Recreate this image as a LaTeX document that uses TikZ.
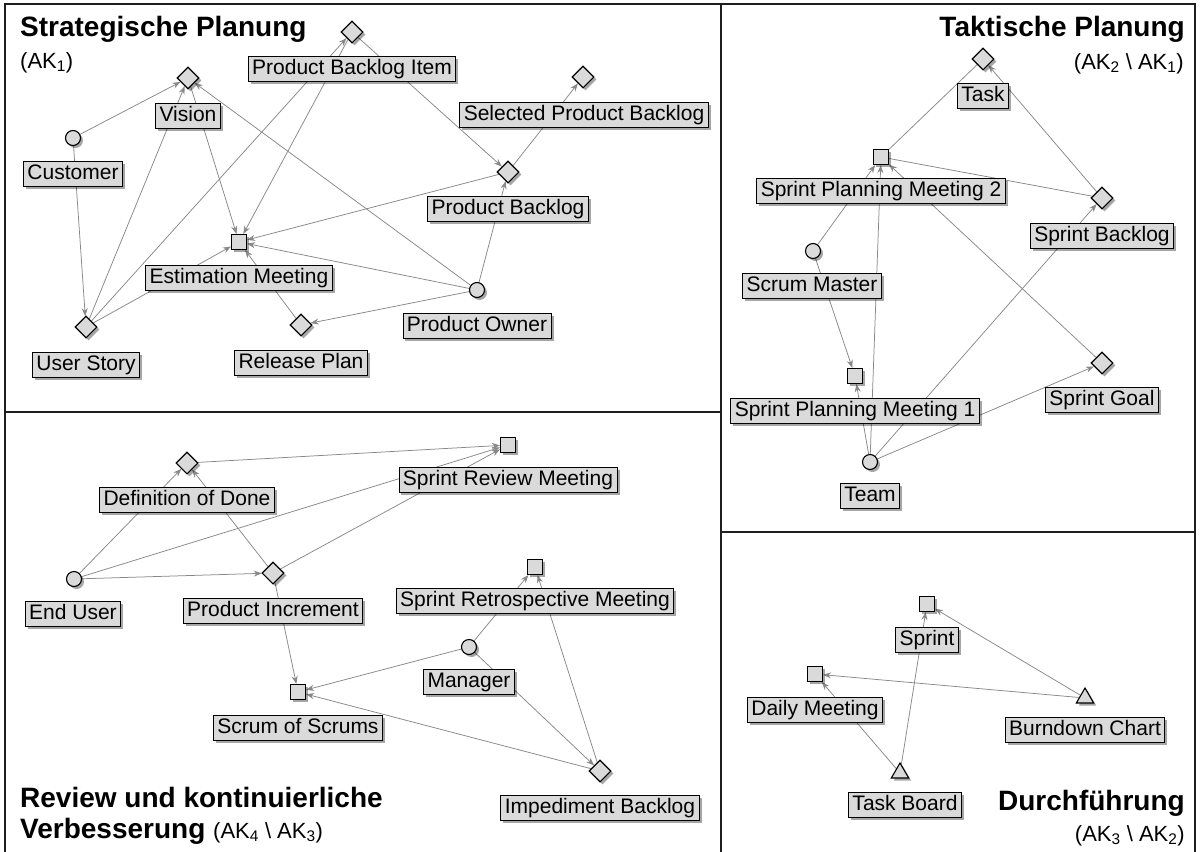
\documentclass[tikz,border=0pt]{standalone}
\usepackage{fontspec}
\setmainfont{Liberation Sans}
\usetikzlibrary{shapes.geometric,arrows.meta,shadows,backgrounds}
\definecolor{boxfill}{HTML}{DADADA}
\definecolor{linkgray}{HTML}{888888}
\definecolor{framegray}{HTML}{1E1E1E}
\newcommand{\smalltxt}{\mdseries\fontsize{22}{24}\selectfont}
\begin{document}
\begin{tikzpicture}[x=1pt,y=-1pt,
  shade/.style={drop shadow={shadow xshift=2.5pt,shadow yshift=-2.5pt,opacity=0.35,fill=black}},
  lbl/.style={draw=black,line width=0.9pt,fill=boxfill,font=\fontsize{21}{23}\selectfont,
    inner xsep=4pt,inner ysep=3pt,text height=15pt,text depth=4pt,shade},
  el/.style={draw=black,line width=1.1pt,fill=boxfill,inner sep=0pt,shade},
  dia/.style={el,diamond,minimum size=22pt},
  sq/.style={el,rectangle,minimum size=15pt},
  circ/.style={el,circle,minimum size=15pt},
  tri/.style={el,regular polygon,regular polygon sides=3,minimum size=20pt},
  link/.style={draw=linkgray,line width=0.75pt,-{Stealth[length=8pt,width=6pt]}},
  plainlink/.style={draw=linkgray,line width=0.75pt},
  title/.style={font=\fontsize{28}{31}\selectfont\bfseries,inner sep=0pt},
  sub/.style={font=\smalltxt,inner sep=0pt}]
\useasboundingbox (0,0) rectangle (1203,852);

% ---------- Strategische Planung ----------
\node[dia] (vision) at (188,78) {};
\node[lbl] (lVision) at (188,116) {Vision};
\node[circ] (customer) at (73,138) {};
\node[lbl] (lCustomer) at (73,174) {Customer};
\node[dia] (pbi) at (352,32) {};
\node[lbl] (lPbi) at (352,69) {Product Backlog Item};
\node[dia] (spb) at (583,77) {};
\node[lbl] (lSpb) at (584,115) {Selected Product Backlog};
\node[dia] (pb) at (508,172) {};
\node[lbl] (lPb) at (508,209) {Product Backlog};
\node[sq] (em) at (239,242) {};
\node[lbl] (lEm) at (239,278) {Estimation Meeting};
\node[dia] (us) at (86,327) {};
\node[lbl] (lUs) at (86,365) {User Story};
\node[dia] (rp) at (301,325) {};
\node[lbl] (lRp) at (301,363) {Release Plan};
\node[circ] (po) at (477,290) {};
\node[lbl] (lPo) at (477,326) {Product Owner};

% ---------- Taktische Planung ----------
\node[dia] (task) at (983,59) {};
\node[lbl] (lTask) at (983,96) {Task};
\node[sq] (spm2) at (881,157) {};
\node[lbl] (lSpm2) at (881,191) {Sprint Planning Meeting 2};
\node[dia] (sb) at (1102,198) {};
\node[lbl] (lSb) at (1102,236) {Sprint Backlog};
\node[circ] (sm) at (813,251) {};
\node[lbl] (lSm) at (812,286) {Scrum Master};
\node[sq] (spm1) at (855,376) {};
\node[lbl] (lSpm1) at (855,411) {Sprint Planning Meeting 1};
\node[dia] (sg) at (1102,363) {};
\node[lbl] (lSg) at (1102,400) {Sprint Goal};
\node[circ] (team) at (870,462) {};
\node[lbl] (lTeam) at (870,496) {Team};

% ---------- Review und kontinuierliche Verbesserung ----------
\node[dia] (dod) at (187,463) {};
\node[lbl] (lDod) at (187,500) {Definition of Done};
\node[sq] (srm) at (508,445) {};
\node[lbl] (lSrm) at (508,480) {Sprint Review Meeting};
\node[circ] (eu) at (74,579) {};
\node[lbl] (lEu) at (73,614) {End User};
\node[dia] (pi) at (273,573) {};
\node[lbl] (lPi) at (273,611) {Product Increment};
\node[sq] (sretm) at (535,567) {};
\node[lbl] (lSretm) at (535,601) {Sprint Retrospective Meeting};
\node[circ] (mgr) at (469,647) {};
\node[lbl] (lMgr) at (469,682) {Manager};
\node[sq] (sos) at (298,692) {};
\node[lbl] (lSos) at (298,728) {Scrum of Scrums};
\node[dia] (ib) at (600,771) {};
\node[lbl] (lIb) at (600,808) {Impediment Backlog};

% ---------- Durchführung ----------
\node[sq] (sprint) at (927,604) {};
\node[lbl] (lSprint) at (927,640) {Sprint};
\node[sq] (dm) at (815,674) {};
\node[lbl] (lDm) at (815,710) {Daily Meeting};
\node[tri] (bc) at (1085,698) {};
\node[lbl] (lBc) at (1085,730) {Burndown Chart};
\node[tri] (tb) at (900,773) {};
\node[lbl] (lTb) at (905,805) {Task Board};

% ---------- headings ----------
\node[title,anchor=base west] (hStrat) at (20,36) {Strategische Planung};
\node[sub,anchor=base west] (hStratSub) at (20,68) {(AK\textsubscript{1})};
\node[title,anchor=base east] (hTakt) at (1185,36) {Taktische Planung};
\node[sub,anchor=base east] (hTaktSub) at (1184,69) {(AK\textsubscript{2} \textbackslash{} AK\textsubscript{1})};
\node[title,anchor=base west] (hRev) at (20,807) {Review und kontinuierliche};
\node[title,anchor=base west] (hVer) at (20,838) {Verbesserung {\smalltxt(AK\textsubscript{4} \textbackslash{} AK\textsubscript{3})}};
\node[title,anchor=base east] (hDurch) at (1185,810) {Durchführung};
\node[sub,anchor=base east] (hDurchSub) at (1185,841) {(AK\textsubscript{3} \textbackslash{} AK\textsubscript{2})};

\begin{scope}[on background layer]
  \fill[white] (0,0) rectangle (1203,852);
  % strategic planning links
  \draw[link] (customer) -- (vision);
  \draw[link] (customer) -- (us);
  \draw[link] (us) -- (vision);
  \draw[link] (us) -- (pbi);
  \draw[link] (us) -- (em);
  \draw[link] (vision) -- (em);
  \draw[link] (pbi) -- (em);
  \draw[link] (pbi) -- (pb);
  \draw[link] (pb) -- (spb);
  \draw[link] (pb) -- (em);
  \draw[link] (po) -- (vision);
  \draw[link] (po) -- (em);
  \draw[link] (po) -- (pb);
  \draw[link] (po) -- (rp);
  \draw[link] (rp) -- (em);
  % tactical planning links
  \draw[link] (sb) -- (task);
  \draw[plainlink] (spm2) -- (task);
  \draw[plainlink] (sb) -- (spm2);
  \draw[link] (sm) -- (spm2);
  \draw[link] (sm) -- (spm1);
  \draw[link] (team) -- (spm1);
  \draw[link] (team) -- (spm2);
  \draw[link] (team) -- (sb);
  \draw[link] (team) -- (sg);
  \draw[link] (sg) -- (spm2);
  % review links
  \draw[link] (eu) -- (dod);
  \draw[link] (pi) -- (dod);
  \draw[link] (eu) -- (srm);
  \draw[link] (eu) -- (pi);
  \draw[link] (dod) -- (srm);
  \draw[link] (pi) -- (srm);
  \draw[link] (pi) -- (sos);
  \draw[link] (mgr) -- (sretm);
  \draw[link] (mgr) -- (sos);
  \draw[link] (mgr) -- (ib);
  \draw[link] (ib) -- (sretm);
  \draw[link] (ib) -- (sos);
  % execution links
  \draw[link] (bc) -- (sprint);
  \draw[link] (bc) -- (dm);
  \draw[link] (tb) -- (sprint);
  \draw[link] (tb) -- (dm);
\end{scope}

% panel frame
\begin{scope}[draw=framegray,line width=1.6pt]
  \draw (5,4) rectangle (1195,862);
  \draw (721,4) -- (721,862);
  \draw (5,412) -- (721,412);
  \draw (721,532) -- (1195,532);
\end{scope}
\end{tikzpicture}
\end{document}
